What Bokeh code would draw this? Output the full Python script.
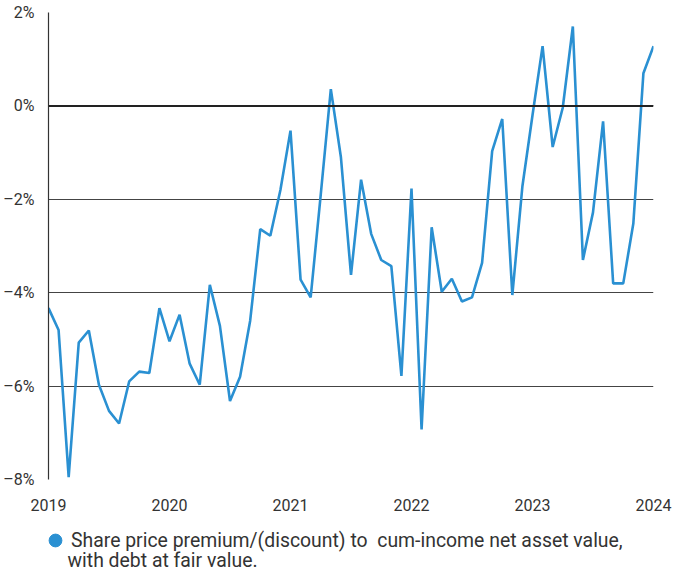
import math
from bokeh.plotting import figure
from bokeh.layouts import column
from bokeh.models import FixedTicker, Span, Legend, LegendItem, Range1d, Label
from bokeh.embed import file_html
from bokeh.resources import INLINE

years = [2019, 2020, 2021, 2022, 2023, 2024]
months = [(y, m) for y in range(2019, 2024) for m in range(12)] + [(2024, 0)]
premium = [
    -4.33, -4.80, -7.95, -5.07, -4.81, -5.97, -6.53, -6.80, -5.90, -5.69, -5.72, -4.33,
    -5.04, -4.47, -5.52, -5.97, -3.83, -4.71, -6.32, -5.80, -4.60, -2.64, -2.78, -1.80,
    -0.53, -3.72, -4.10, -1.90, 0.36, -1.10, -3.62, -1.58, -2.74, -3.30, -3.43, -5.78,
    -1.77, -6.93, -2.60, -3.98, -3.70, -4.19, -4.10, -3.36, -0.97, -0.28, -4.05, -1.72,
    -0.20, 1.28, -0.88, -0.04, 1.70, -3.30, -2.28, -0.33, -3.80, -3.80, -2.52, 0.70,
    1.28,
]
y_ticks = [-8, -6, -4, -2, 0, 2]
y_labels = {-8: "\u20138%", -6: "\u20136%", -4: "\u20134%", -2: "\u20132%", 0: "0%", 2: "2%"}
legend_line1 = "Share price premium/(discount) to  cum-income net asset value,"
legend_line2 = "with debt at fair value."

x = [y + m / 12 for (y, m) in months]

FONT = "Roboto"
BLUE = "#2a90d2"
TXT = "#333333"

p = figure(width=673, height=520, output_backend="svg", toolbar_location=None,
           x_range=Range1d(2019, 2024), y_range=Range1d(-8, 2),
           min_border_left=48, min_border_top=12, min_border_right=20, min_border_bottom=41)
p.outline_line_color = None

p.line(x, premium, line_color=BLUE, line_width=2.6)

p.xgrid.grid_line_color = None
p.ygrid.ticker = FixedTicker(ticks=y_ticks)
p.ygrid.grid_line_color = "#444444"
p.ygrid.grid_line_width = 1

p.add_layout(Span(location=0, dimension="width", line_color="#222222", line_width=2))

p.yaxis.ticker = FixedTicker(ticks=y_ticks)
p.yaxis.major_label_overrides = y_labels
p.yaxis.axis_line_color = "#333333"
p.yaxis.axis_line_width = 1.2
p.yaxis.major_tick_line_color = None
p.yaxis.minor_tick_line_color = None
p.yaxis.major_label_standoff = 8
p.yaxis.major_label_text_font = FONT
p.yaxis.major_label_text_font_size = "16px"
p.yaxis.major_label_text_color = TXT

p.xaxis.ticker = FixedTicker(ticks=years)
p.xaxis.major_label_overrides = {y: str(y) for y in years}
p.xaxis.axis_line_color = None
p.xaxis.major_tick_line_color = None
p.xaxis.minor_tick_line_color = None
p.xaxis.major_label_standoff = 13
p.xaxis.major_label_text_font = FONT
p.xaxis.major_label_text_font_size = "16px"
p.xaxis.major_label_text_color = TXT

# legend strip (its frame is aligned with the chart's frame by the column layout)
q = figure(width=673, height=54, output_backend="svg", toolbar_location=None,
           x_range=Range1d(0, 1), y_range=Range1d(0, 1), min_border=0)
q.axis.visible = False
q.grid.visible = False
q.outline_line_color = None
dummy = q.scatter([math.nan], [math.nan], marker="circle", size=13,
                  fill_color=BLUE, line_color=BLUE)
legend = Legend(items=[LegendItem(label=legend_line1, renderers=[dummy])],
                location=(-9, 18), padding=0, margin=0, border_line_color=None,
                background_fill_alpha=0, glyph_width=32, glyph_height=32,
                label_standoff=-4, label_text_font=FONT, label_text_font_size="19.4px",
                label_text_color=TXT, label_height=20)
q.add_layout(legend, "center")
q.add_layout(Label(x=19, y=14, x_units="screen", y_units="screen", text=legend_line2,
                   text_baseline="middle", text_font=FONT, text_font_size="19.4px",
                   text_color=TXT))

open("out.html", "w").write(file_html(column(p, q, spacing=0), INLINE))
